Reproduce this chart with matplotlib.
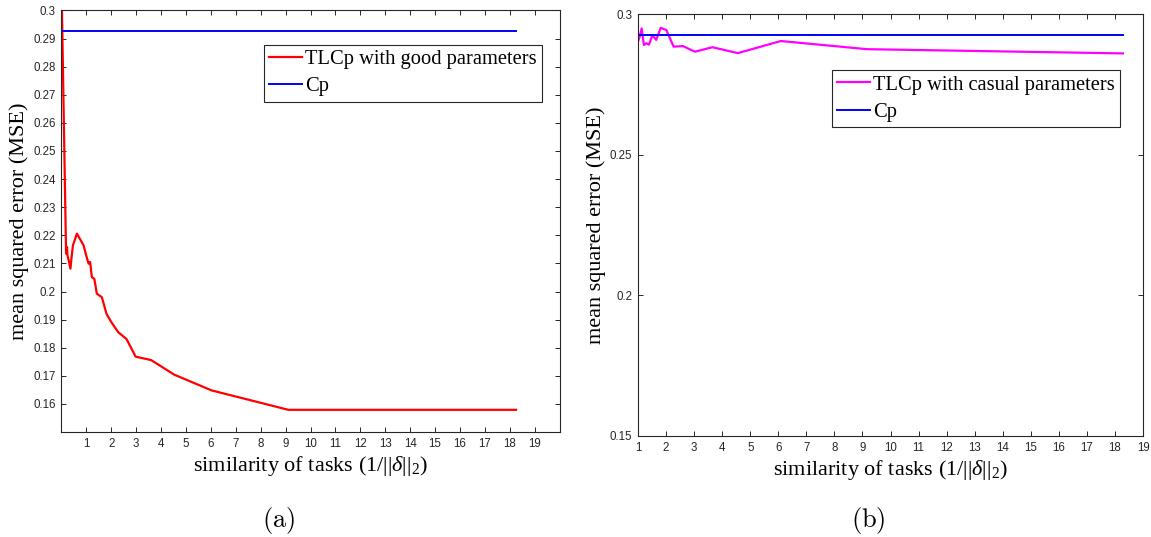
import numpy as np
import matplotlib
matplotlib.use("Agg")
import matplotlib.pyplot as plt

plt.rcParams['font.family'] = ['Liberation Serif', 'DejaVu Serif']
plt.rcParams['mathtext.fontset'] = 'custom'
plt.rcParams['mathtext.rm'] = 'Liberation Serif'
plt.rcParams['mathtext.it'] = 'Liberation Serif:italic'

# (a) TLCp with good parameters
good_x = [0.02, 0.185, 0.225, 0.24, 0.29, 0.36, 0.40, 0.46, 0.62, 0.89, 0.99,
          1.09, 1.15, 1.22, 1.32, 1.42, 1.62, 1.81, 2.01, 2.28, 2.61, 2.98, 3.60,
          4.53, 6.03, 9.11, 18.25]
good_y = [0.300, 0.2135, 0.2158, 0.2129, 0.2111, 0.2081, 0.2117, 0.2164, 0.2206,
          0.2164, 0.2129, 0.2099, 0.2105, 0.2051, 0.2045, 0.1992, 0.1980, 0.1920,
          0.1890, 0.1855, 0.1831, 0.1768, 0.1756, 0.1704, 0.1648, 0.1579, 0.1579]

# (b) TLCp with casual parameters
casual_x = [1.0, 1.06, 1.13, 1.21, 1.30, 1.39, 1.51, 1.65, 1.81, 2.01, 2.27, 2.60,
            3.03, 3.65, 4.56, 6.09, 9.16, 18.28]
casual_y = [0.2902, 0.2919, 0.2949, 0.2890, 0.2896, 0.2891, 0.2924, 0.2908, 0.2951,
            0.2943, 0.2884, 0.2886, 0.2866, 0.2882, 0.2861, 0.2904, 0.2875, 0.2860]

cp_value = 0.2926
cp_x_a = [0.0, 18.25]
cp_x_b = [1.0, 18.28]

xticks = list(range(1, 20))
yticks_a = [round(0.16 + 0.01 * i, 2) for i in range(15)]
yticks_b = [0.15, 0.2, 0.25, 0.3]

xlabel = r'similarity of tasks (1/||$\delta$||$_2$)'
ylabel = 'mean squared error (MSE)'

fig = plt.figure(figsize=(11.51, 5.37), dpi=100)
ax1 = fig.add_axes([0.0534, 0.1955, 0.4328, 0.785])
ax2 = fig.add_axes([0.5543, 0.1881, 0.4388, 0.7858])


def style(ax):
    for s in ax.spines.values():
        s.set_color('#262626')
        s.set_linewidth(0.8)
    ax.tick_params(direction='in', top=True, right=True, length=3.4, width=0.7,
                   colors='#262626', labelsize=8.3, pad=4)
    for lab in ax.get_xticklabels() + ax.get_yticklabels():
        lab.set_family(['Liberation Sans'])
    ax.set_xlabel(xlabel, fontsize=16, labelpad=3)
    ax.set_ylabel(ylabel, fontsize=16, labelpad=3)


def add_legend(ax, x, y):
    leg = ax.legend(loc='upper left', bbox_to_anchor=(x / 1151, 1 - y / 537),
                    bbox_transform=fig.transFigure, borderaxespad=0, fancybox=False,
                    edgecolor='#262626', fontsize=14.8, handlelength=1.6,
                    handletextpad=0.15, labelspacing=0.38, borderpad=0.25, framealpha=1)
    leg.get_frame().set_linewidth(0.8)


ax1.plot(good_x, good_y, color='#ff0000', lw=1.6, label='TLCp with good parameters')
ax1.plot(cp_x_a, [cp_value, cp_value], color='#0000ff', lw=1.4, label='Cp')
ax1.set_xlim(0, 20)
ax1.set_ylim(0.15, 0.30)
ax1.set_xticks(xticks)
ax1.set_yticks(yticks_a)
ax1.set_yticklabels(['%g' % v for v in yticks_a])
style(ax1)
add_legend(ax1, 264, 44.7)

ax2.plot(casual_x, casual_y, color='#ff00ff', lw=1.6, label='TLCp with casual parameters')
ax2.plot(cp_x_b, [cp_value, cp_value], color='#0000ff', lw=1.4, label='Cp')
ax2.set_xlim(1, 19)
ax2.set_ylim(0.15, 0.30)
ax2.set_xticks(xticks)
ax2.set_yticks(yticks_b)
ax2.set_yticklabels(['%g' % v for v in yticks_b])
style(ax2)
add_legend(ax2, 831.7, 70)

fig.text(279 / 1151, 1 - 521 / 537, r'$\mathrm{(a)}$', ha='center', va='center',
         fontsize=19, math_fontfamily='cm')
fig.text(868 / 1151, 1 - 521 / 537, r'$\mathrm{(b)}$', ha='center', va='center',
         fontsize=19, math_fontfamily='cm')

fig.savefig('out.png', dpi=100)
